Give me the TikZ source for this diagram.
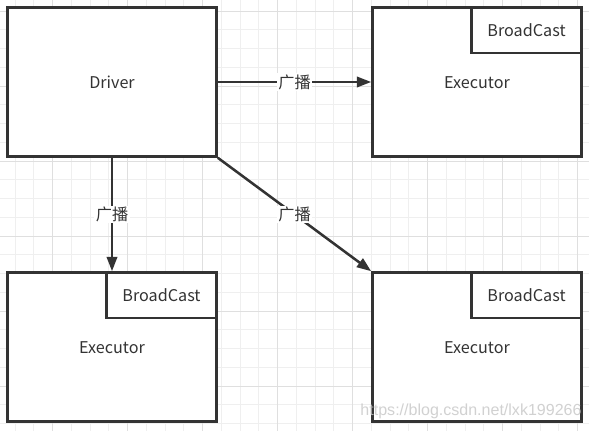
\documentclass[tikz,border=0pt]{standalone}
\usepackage{fontspec}
\setmainfont{Noto Sans CJK SC}
\newfontfamily\wmfont{Liberation Sans}
\usetikzlibrary{arrows.meta}
\definecolor{ink}{HTML}{333333}
\definecolor{gridmin}{HTML}{EFEFEF}
\definecolor{gridmaj}{HTML}{DFDFDF}
\tikzstyle{bigbox}=[rectangle, draw=ink, line width=1.8pt, fill=white, text=ink, minimum width=5.225cm, minimum height=3.725cm, font=\fontsize{11.5}{13}\selectfont]
\tikzstyle{bcast}=[rectangle, draw=ink, line width=1.8pt, fill=white, text=ink, minimum width=2.75cm, minimum height=1.14cm, anchor=north east, font=\fontsize{11.5}{13}\selectfont]
\tikzstyle{arr}=[draw=ink, line width=1.8pt, -{Triangle[length=3.6mm, width=2.6mm]}]
\tikzstyle{lbl}=[fill=white, text=ink, inner sep=1pt, font=\fontsize{11.5}{13}\selectfont]

\begin{document}
\begin{tikzpicture}[x=0.025cm, y=-0.025cm]
\useasboundingbox (0,0) rectangle (589,431);

% grid
\foreach \i in {0,...,30} \draw[gridmin, line width=0.7pt] ({15+18.75*\i},0) -- ({15+18.75*\i},431);
\foreach \i in {0,...,22} \draw[gridmin, line width=0.7pt] (0,{11+18.75*\i}) -- (589,{11+18.75*\i});
\foreach \i in {0,...,7} \draw[gridmaj, line width=0.7pt] ({52.5+75*\i},0) -- ({52.5+75*\i},431);
\foreach \i in {0,...,5} \draw[gridmaj, line width=0.7pt] (0,{11+75*\i}) -- (589,{11+75*\i});

\node[bigbox] (drv) at (112,82) {Driver};

\node[bigbox] (ex1) at (477,82) {};
\node[bcast] (bc1) at (ex1.north east) {BroadCast};
\node[text=ink, font=\fontsize{11.5}{13}\selectfont] (t1) at (477,83) {Executor};

\node[bigbox] (ex2) at (112,347) {};
\node[bcast] (bc2) at (ex2.north east) {BroadCast};
\node[text=ink, font=\fontsize{11.5}{13}\selectfont] (t2) at (112,348) {Executor};

\node[bigbox] (ex3) at (477,347) {};
\node[bcast] (bc3) at (ex3.north east) {BroadCast};
\node[text=ink, font=\fontsize{11.5}{13}\selectfont] (t3) at (477,348) {Executor};

\draw[arr] (drv.east) -- (ex1.west) node[midway, lbl] {广播};
\draw[arr] (drv.south) -- (ex2.north) node[midway, lbl] {广播};
\draw[arr] (drv.south east) -- (ex3.north west) node[midway, lbl] {广播};

\node[text=gray!45, opacity=0.8, font=\wmfont\fontsize{11.4}{13}\selectfont] (wm) at (471,411) {https://blog.csdn.net/lxk199266};

\end{tikzpicture}
\end{document}
